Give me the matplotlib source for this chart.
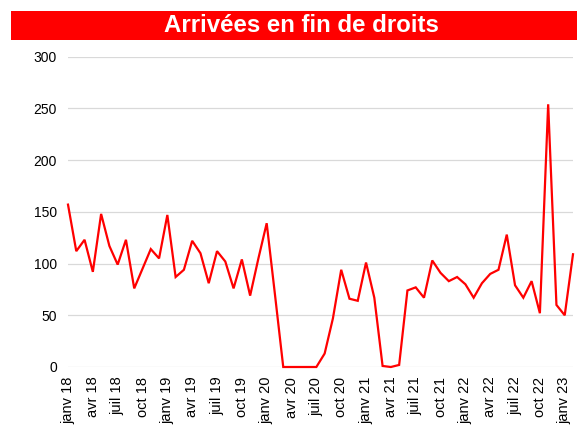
import matplotlib
matplotlib.use("Agg")
import matplotlib.pyplot as plt
from matplotlib.patches import Rectangle

plt.rcParams['font.family'] = ['Liberation Sans', 'DejaVu Sans']

title = "Arrivées en fin de droits"

months = ["janv", "févr", "mars", "avr", "mai", "juin",
          "juil", "août", "sept", "oct", "nov", "déc"]
years = ["18", "19", "20", "21", "22", "23"]

values = [157, 112, 123, 92, 148, 117, 99, 123, 76, 95, 114, 105,
          147, 87, 94, 122, 110, 81, 112, 102, 76, 104, 69, 105,
          139, 70, 0, 0, 0, 0, 0, 13, 47, 94, 66, 64,
          101, 67, 1, 0, 2, 74, 77, 67, 103, 91, 83, 87,
          80, 67, 81, 90, 94, 128, 79, 67, 83, 52, 254, 60,
          50, 109]

labels = [f"{months[i % 12]} {years[i // 12]}" for i in range(len(values))]
x = list(range(len(values)))
tick_idx = list(range(0, len(values), 3))
tick_labels = [labels[i] for i in tick_idx]

fig = plt.figure(figsize=(5.77, 4.25), dpi=100)
ax = fig.add_axes([68/577, (425-367)/425, (573-68)/577, (367-56.7)/425])

ax.plot(x, values, color='#ff0000', lw=1.6, solid_joinstyle='miter', zorder=3, clip_on=False)

ax.set_xlim(0, len(values) - 1)
ax.set_ylim(0, 300)
ax.set_yticks([0, 50, 100, 150, 200, 250, 300])
ax.set_xticks(tick_idx)
ax.set_xticklabels(tick_labels, rotation=90, fontsize=10.5, color='#000000')
ax.tick_params(axis='y', length=0, pad=8, labelsize=10, labelcolor='#000000')
ax.tick_params(axis='x', length=0, pad=7)
ax.grid(axis='y', color='#d9d9d9', lw=0.9)
ax.set_axisbelow(True)
for s in ax.spines.values():
    s.set_visible(False)

# title bar
fig.patches.append(Rectangle((11/577, (425-39.5)/425), 1.0, 28.5/425,
                             transform=fig.transFigure, facecolor='#ff0000',
                             edgecolor='none', zorder=0))
fig.text(301/577, (425-32.3)/425, title, ha='center', va='baseline',
         color='white', fontsize=17.3, fontweight='bold')

fig.savefig('out.png', dpi=100)
